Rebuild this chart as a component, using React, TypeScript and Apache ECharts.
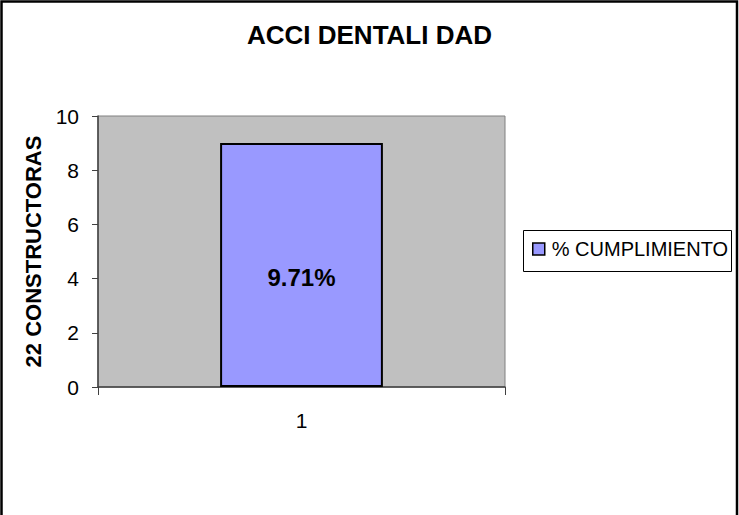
import React, { useEffect, useRef } from "react";
import * as echarts from "echarts";

const categories = ["1"];
const seriesName = "% CUMPLIMIENTO";
const values = [9];
const barLabels = ["9.71%"];
const titleText = "ACCI DENTALI DAD";
const yAxisName = "22 CONSTRUCTORAS";

export default function App() {
  const ref = useRef<HTMLDivElement>(null);
  useEffect(() => {
    if (!ref.current) return;
    const chart = echarts.init(ref.current, null, { renderer: "svg" });
    const font = "'Liberation Sans', Arial, sans-serif";
    chart.setOption({
      animation: false,
      backgroundColor: "#fff",
      title: {
        text: titleText,
        left: "center",
        top: 17,
        textStyle: { fontFamily: font, fontSize: 26, fontWeight: "bold", color: "#000" },
      },
      grid: {
        left: 98,
        right: 234,
        top: 116,
        bottom: 128,
        show: true,
        backgroundColor: "#C0C0C0",
        borderColor: "#808080",
        borderWidth: 1,
      },
      legend: {
        left: 524,
        top: 239,
        padding: [0, 0, 0, 8],
        itemWidth: 12,
        itemHeight: 12,
        itemGap: 5,
        icon: "rect",
        itemStyle: { color: "#9999FF", borderColor: "#000", borderWidth: 1.5 },
        textStyle: { fontFamily: font, fontSize: 20, color: "#000", padding: [0, 0, 0, 2] },
        data: [seriesName],
      },
      xAxis: {
        type: "category",
        data: categories,
        axisLine: { lineStyle: { color: "#404040", width: 1.5 } },
        axisTick: { show: true, length: 8, lineStyle: { color: "#404040" } },
        axisLabel: { fontFamily: font, fontSize: 21, color: "#000", margin: 23 },
      },
      yAxis: {
        type: "value",
        min: 0,
        max: 10,
        interval: 2,
        name: yAxisName,
        nameLocation: "middle",
        nameGap: 51,
        nameTextStyle: { fontFamily: font, fontSize: 22, fontWeight: "bold", color: "#000" },
        axisLine: { show: true, lineStyle: { color: "#404040", width: 1.5 } },
        axisTick: { show: true, length: 6, lineStyle: { color: "#404040" } },
        splitLine: { show: false },
        axisLabel: { fontFamily: font, fontSize: 21, color: "#000", margin: 19 },
      },
      series: [
        {
          name: seriesName,
          type: "bar",
          data: values,
          barWidth: "40%",
          itemStyle: { color: "#9999FF", borderColor: "#000", borderWidth: 2 },
          label: {
            show: true,
            position: "inside",
            offset: [0, 12],
            formatter: (p: any) => barLabels[p.dataIndex],
            fontFamily: font,
            fontSize: 24,
            fontWeight: "bold",
            color: "#000",
          },
        },
      ],
      graphic: [
        {
          type: "rect",
          shape: { x: 1.5, y: 1.5, width: 735.5, height: 530 },
          style: { fill: "none", stroke: "#000", lineWidth: 2.5 },
          z: 100,
        },
        {
          type: "rect",
          shape: { x: 523.5, y: 230.5, width: 208, height: 41 },
          style: { fill: "none", stroke: "#000", lineWidth: 1 },
          z: 100,
        },
      ],
    });
    return () => chart.dispose();
  }, []);
  return (
    <div
      ref={ref}
      style={{ position: "absolute", left: 0, top: 0, width: 739, height: 515 }}
    />
  );
}
